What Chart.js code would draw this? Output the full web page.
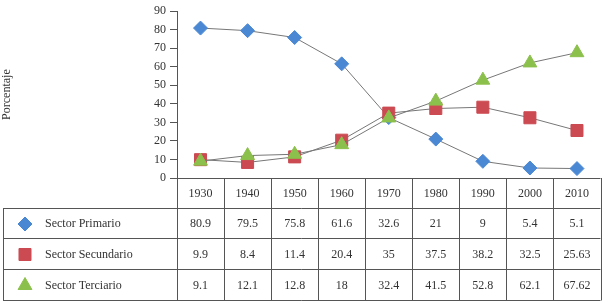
<!DOCTYPE html>
<html>
<head>
<meta charset="utf-8">
<script src="https://cdn.jsdelivr.net/npm/chart.js@4"></script>
<style>
  html, body { margin: 0; padding: 0; background: #fff; }
  #wrap { width: 610px; height: 305px; }
</style>
</head>
<body>
<div id="wrap"><canvas id="graph" width="610" height="305"></canvas></div>
<script>
// datos
const years = ["1930", "1940", "1950", "1960", "1970", "1980", "1990", "2000", "2010"];
const primario = [80.9, 79.5, 75.8, 61.6, 32.6, 21, 9, 5.4, 5.1];
const secundario = [9.9, 8.4, 11.4, 20.4, 35, 37.5, 38.2, 32.5, 25.63];
const terciario = [9.1, 12.1, 12.8, 18, 32.4, 41.5, 52.8, 62.1, 67.62];
const seriesNames = ["Sector Primario", "Sector Secundario", "Sector Terciario"];
const yTicks = [0, 10, 20, 30, 40, 50, 60, 70, 80, 90];

const FONT = "'Liberation Serif', 'DejaVu Serif', serif";
const rowTops = [178, 208, 238, 269, 300];

function serie(label, data, color, style, radius, order) {
  return {
    label: label,
    data: data,
    borderColor: "#777",
    borderWidth: 1,
    pointStyle: style,
    pointRadius: radius,
    pointHoverRadius: radius,
    pointBackgroundColor: color,
    pointBorderColor: color,
    pointBorderWidth: 1,
    order: order,
    tension: 0,
  };
}

const datasets = [
  serie(seriesNames[0], primario, "#4a88d4", "rectRot", 7, 3),
  serie(seriesNames[1], secundario, "#cc4a52", "rect", 8.5, 2),
  serie(seriesNames[2], terciario, "#8cc04c", "triangle", 8, 1),
];

// tabla debajo del grafico
const dataTable = {
  id: "dataTable",
  afterDraw(chart) {
    const ctx = chart.ctx;
    const x = chart.scales.x;
    const left = chart.chartArea.left;
    const right = chart.chartArea.right;
    const colW = (right - left) / years.length;
    ctx.save();
    ctx.strokeStyle = "#555";
    ctx.lineWidth = 1;
    ctx.beginPath();
    // horizontales
    ctx.moveTo(left, rowTops[0] + 0.5);
    ctx.lineTo(right, rowTops[0] + 0.5);
    for (let i = 1; i < rowTops.length; i++) {
      ctx.moveTo(3, rowTops[i] + 0.5);
      ctx.lineTo(right, rowTops[i] + 0.5);
    }
    // verticales
    ctx.moveTo(3.5, rowTops[1]);
    ctx.lineTo(3.5, rowTops[4] + 0.5);
    for (let j = 0; j <= years.length; j++) {
      const px = Math.round(left + j * colW) + 0.5;
      ctx.moveTo(px, rowTops[0]);
      ctx.lineTo(px, rowTops[4] + 0.5);
    }
    ctx.stroke();

    ctx.fillStyle = "#333";
    ctx.font = "12px " + FONT;
    ctx.textAlign = "center";
    ctx.textBaseline = "middle";
    const rows = [years, primario, secundario, terciario];
    rows.forEach((row, r) => {
      const cy = (rowTops[r] + rowTops[r + 1]) / 2 + 1;
      row.forEach((v, i) => {
        ctx.fillText(String(v), x.getPixelForValue(i), cy);
      });
    });

    chart.data.datasets.forEach((ds, k) => {
      const cy = (rowTops[k + 1] + rowTops[k + 2]) / 2 + 1;
      ctx.fillStyle = ds.pointBackgroundColor;
      ctx.strokeStyle = ds.pointBorderColor;
      Chart.helpers.drawPoint(ctx, {
        pointStyle: ds.pointStyle,
        radius: ds.pointRadius,
        rotation: 0,
        borderWidth: 1,
      }, 25, cy);
      ctx.fillStyle = "#333";
      ctx.font = "12px " + FONT;
      ctx.textAlign = "left";
      ctx.textBaseline = "middle";
      ctx.fillText(ds.label, 45, cy);
    });
    ctx.restore();
  },
};

const ctx = document.getElementById("graph").getContext("2d");
new Chart(ctx, {
  type: "line",
  data: { labels: years, datasets: datasets },
  options: {
    responsive: false,
    animation: false,
    layout: { padding: { left: 0, right: 5, top: 9, bottom: 305 - 178 } },
    plugins: { legend: { display: false }, tooltip: { enabled: false } },
    scales: {
      x: { display: false, offset: true },
      y: {
        min: 0,
        max: 90,
        afterFit: (s) => { s.width = 177; },
        afterBuildTicks: (s) => { s.ticks = yTicks.map((v) => ({ value: v })); },
        border: { display: true, color: "#555", width: 1 },
        grid: { drawOnChartArea: false, tickLength: 7, color: "#555" },
        ticks: { color: "#333", font: { family: FONT, size: 12 }, padding: 4 },
        title: {
          display: true,
          text: "Porcentaje",
          color: "#333",
          font: { family: FONT, size: 12 },
          padding: { top: 0, bottom: 0 },
        },
      },
    },
  },
  plugins: [dataTable],
});
</script>
</body>
</html>
